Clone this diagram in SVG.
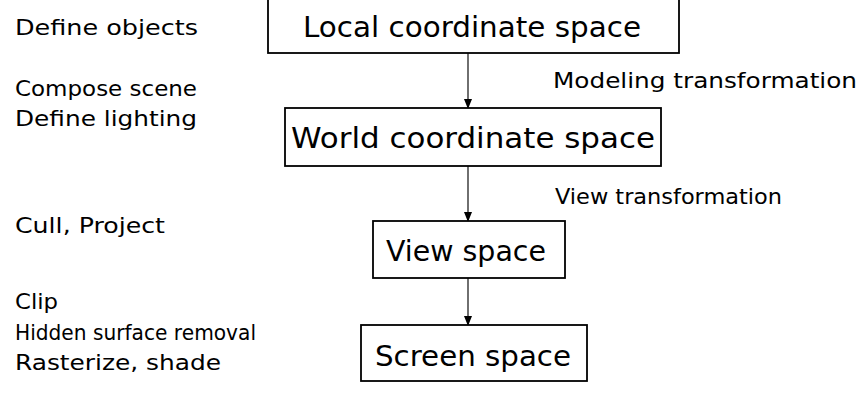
<svg xmlns="http://www.w3.org/2000/svg" width="865" height="406" viewBox="0 0 865 406">
<style>
.box{fill:#fff;stroke:#000;stroke-width:1.8}
.t{font-family:"Comic Sans MS","DejaVu Sans",sans-serif;fill:#000}
.big{font-size:29px;text-anchor:middle}
.sm{font-size:22px}
.con{stroke:#333;stroke-width:1.4;fill:none}
</style>
<defs>
<marker id="ah" markerWidth="10" markerHeight="10" refX="9" refY="5" orient="auto" markerUnits="userSpaceOnUse">
<path d="M0,1 L10,5 L0,9 Z" fill="#000"/>
</marker>
</defs>
<g id="connectors">
<line class="con" x1="468" y1="53" x2="468" y2="108" marker-end="url(#ah)"/>
<line class="con" x1="468" y1="166" x2="468" y2="221" marker-end="url(#ah)"/>
<line class="con" x1="468" y1="278" x2="468" y2="325" marker-end="url(#ah)"/>
</g>
<g id="local">
<rect class="box" x="268" y="-2" width="411" height="55"/>
<text class="t big" x="472" y="37" textLength="338" lengthAdjust="spacingAndGlyphs">Local coordinate space</text>
</g>
<g id="world">
<rect class="box" x="285" y="108" width="376" height="58"/>
<text class="t big" x="473" y="148" textLength="364" lengthAdjust="spacingAndGlyphs">World coordinate space</text>
</g>
<g id="view">
<rect class="box" x="373" y="221" width="192" height="57"/>
<text class="t big" x="466" y="261" textLength="160" lengthAdjust="spacingAndGlyphs">View space</text>
</g>
<g id="screen">
<rect class="box" x="361" y="325" width="226" height="56"/>
<text class="t big" x="473" y="366" textLength="196" lengthAdjust="spacingAndGlyphs">Screen space</text>
</g>
<g id="labels">
<text class="t sm" x="15" y="35" textLength="183" lengthAdjust="spacingAndGlyphs">Define objects</text>
<text class="t sm" x="15" y="96" textLength="182" lengthAdjust="spacingAndGlyphs">Compose scene</text>
<text class="t sm" x="15" y="126" textLength="182" lengthAdjust="spacingAndGlyphs">Define lighting</text>
<text class="t sm" x="15" y="233" textLength="150" lengthAdjust="spacingAndGlyphs">Cull, Project</text>
<text class="t sm" x="15" y="309" textLength="43" lengthAdjust="spacingAndGlyphs">Clip</text>
<text class="t sm" x="15" y="340" textLength="241" lengthAdjust="spacingAndGlyphs">Hidden surface removal</text>
<text class="t sm" x="15" y="370" textLength="206" lengthAdjust="spacingAndGlyphs">Rasterize, shade</text>
<text class="t sm" x="553" y="88" textLength="304" lengthAdjust="spacingAndGlyphs">Modeling transformation</text>
<text class="t sm" x="555" y="204" textLength="227" lengthAdjust="spacingAndGlyphs">View transformation</text>
</g>
</svg>
